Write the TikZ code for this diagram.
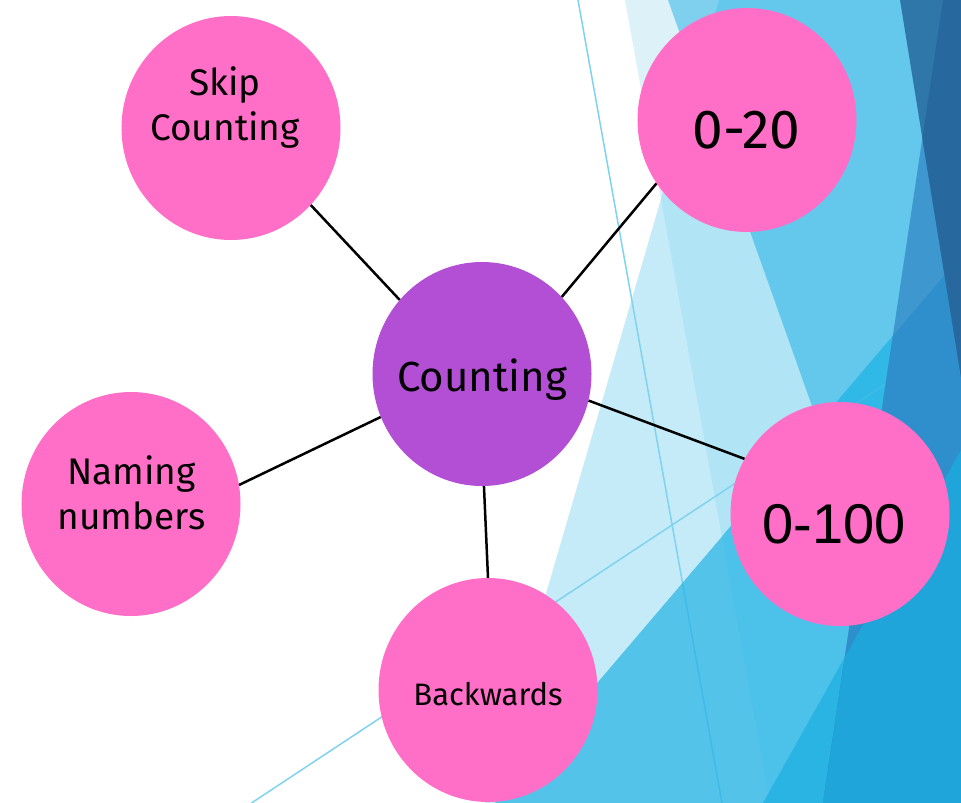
\documentclass[tikz,border=0pt]{standalone}
\usepackage{fontspec}
\setmainfont{Fira Sans}
\newfontfamily\arialf{Liberation Sans}
\usetikzlibrary{shapes.geometric}
\definecolor{pinkc}{HTML}{FF6EC7}
\definecolor{purplec}{HTML}{B24FD5}
\definecolor{bgL}{HTML}{DDF1F9}
\definecolor{bgC}{HTML}{C6EBF8}
\definecolor{bgCL}{HTML}{B1E4F5}
\definecolor{bgMa}{HTML}{7FD0EE}
\definecolor{bgM}{HTML}{64C8EC}
\definecolor{bgT}{HTML}{53C3EA}
\definecolor{bgTL}{HTML}{4CC1E9}
\definecolor{bgTM}{HTML}{30B8E6}
\definecolor{bgTT}{HTML}{29B4E4}
\definecolor{bgD}{HTML}{3F97D0}
\definecolor{bgDT}{HTML}{2E8FCC}
\definecolor{bgDTT}{HTML}{1FA5DA}
\definecolor{bgE}{HTML}{2E77A8}
\definecolor{bgED}{HTML}{27699F}
\definecolor{thinc}{HTML}{7FD3EF}
\definecolor{thinT}{HTML}{3EBBE6}
\begin{document}
\begin{tikzpicture}[x=1pt,y=-1pt,
  bub/.style={ellipse, minimum width=219pt, minimum height=224pt, inner sep=0pt, fill=pinkc},
  txt/.style={anchor=base, inner sep=0pt, text=black},
  link/.style={draw=black, line width=2.5pt},
  thin/.style={draw=thinc, line width=1.5pt}]
% canvas
\fill[white] (0,0) rectangle (961,803);
\useasboundingbox (0,0) rectangle (961,803);
% light layers
\fill[bgL] (625,0) -- (961,0) -- (961,803) -- (770,803) -- cycle;
\fill[bgC] (719,0) -- (961,0) -- (961,803) -- (485,803) -- cycle;
\begin{scope}
  \clip (719,0) -- (961,0) -- (961,803) -- (485,803) -- cycle;
  \fill[bgCL] (625,0) -- (961,0) -- (961,803) -- (770,803) -- cycle;
\end{scope}
\fill[bgMa] (668,0) -- (961,0) -- (961,803) -- (953,803) -- cycle;
\begin{scope}
  \clip (719,0) -- (961,0) -- (961,803) -- (485,803) -- cycle;
  \fill[bgM] (668,0) -- (961,0) -- (961,803) -- (953,803) -- cycle;
\end{scope}
% thin lines
\coordinate (l1a) at (578,0);
\coordinate (l1b) at (722,803);
\coordinate (l2a) at (250,804);
\coordinate (l2b) at (961,334);
\draw[thin] (l1a) -- (l1b);
\draw[thin] (l2a) -- (l2b);
% big blue triangle
\fill[bgT] (495,803) -- (961,256) -- (961,803) -- cycle;
\begin{scope}
  \clip (495,803) -- (961,256) -- (961,803) -- cycle;
  \fill[bgTL] (625,0) -- (961,0) -- (961,803) -- (770,803) -- cycle;
  \fill[bgTM] (668,0) -- (961,0) -- (961,803) -- (953,803) -- cycle;
  \fill[bgTT] (763,803) -- (961,450) -- (961,803) -- cycle;
  \draw[draw=thinT, line width=1.5pt] (l1a) -- (l1b);
  \draw[draw=thinT, line width=1.5pt] (l2a) -- (l2b);
\end{scope}
% dark right band
\fill[bgD] (943,0) -- (961,0) -- (961,803) -- (823,803) -- cycle;
\begin{scope}
  \clip (943,0) -- (961,0) -- (961,803) -- (823,803) -- cycle;
  \fill[bgDT] (495,803) -- (961,256) -- (961,803) -- cycle;
  \fill[bgDTT] (763,803) -- (961,450) -- (961,803) -- cycle;
\end{scope}
\fill[bgE] (900,0) -- (961,0) -- (961,377) -- cycle;
\begin{scope}
  \clip (943,0) -- (961,0) -- (961,803) -- (823,803) -- cycle;
  \fill[bgED] (900,0) -- (961,0) -- (961,377) -- cycle;
\end{scope}
% bubbles
\node[bub] (skip) at (231,128) {};
\node[bub] (twenty) at (747,120) {};
\node[bub, fill=purplec] (cnt) at (482,374) {};
\node[bub] (naming) at (131,504) {};
\node[bub] (hundred) at (840,514) {};
\node[bub] (back) at (488,690) {};
% connectors
\draw[link] (cnt.138) -- (skip.-44.6);
\draw[link] (cnt.44) -- (twenty.215.5);
\draw[link] (cnt.203.6) -- (naming.10.7);
\draw[link] (cnt.-14.8) -- (hundred.150.9);
\draw[link] (cnt.-89.5) -- (back.90);
% texts
\node[txt, font=\fontsize{37}{45}\selectfont] (skipA) at (225,95) {Skip};
\node[txt, font=\fontsize{37}{45}\selectfont] (skipB) at (225,140) {Counting};
\node[txt, font=\fontsize{55}{64}\selectfont] (twentyT) at (746.5,148) {0-20};
\node[txt, font=\fontsize{42}{50}\selectfont] (cntT) at (482,391) {Counting};
\node[txt, font=\fontsize{37}{45}\selectfont] (namA) at (131.5,484) {Naming};
\node[txt, font=\fontsize{37}{45}\selectfont] (namB) at (131.5,529) {numbers};
\node[txt, font=\arialf\fontsize{56}{66}\selectfont] (hundT) at (834,543) {0-100};
\node[txt, font=\fontsize{31}{37}\selectfont] (backT) at (488,705) {Backwards};
\end{tikzpicture}
\end{document}
